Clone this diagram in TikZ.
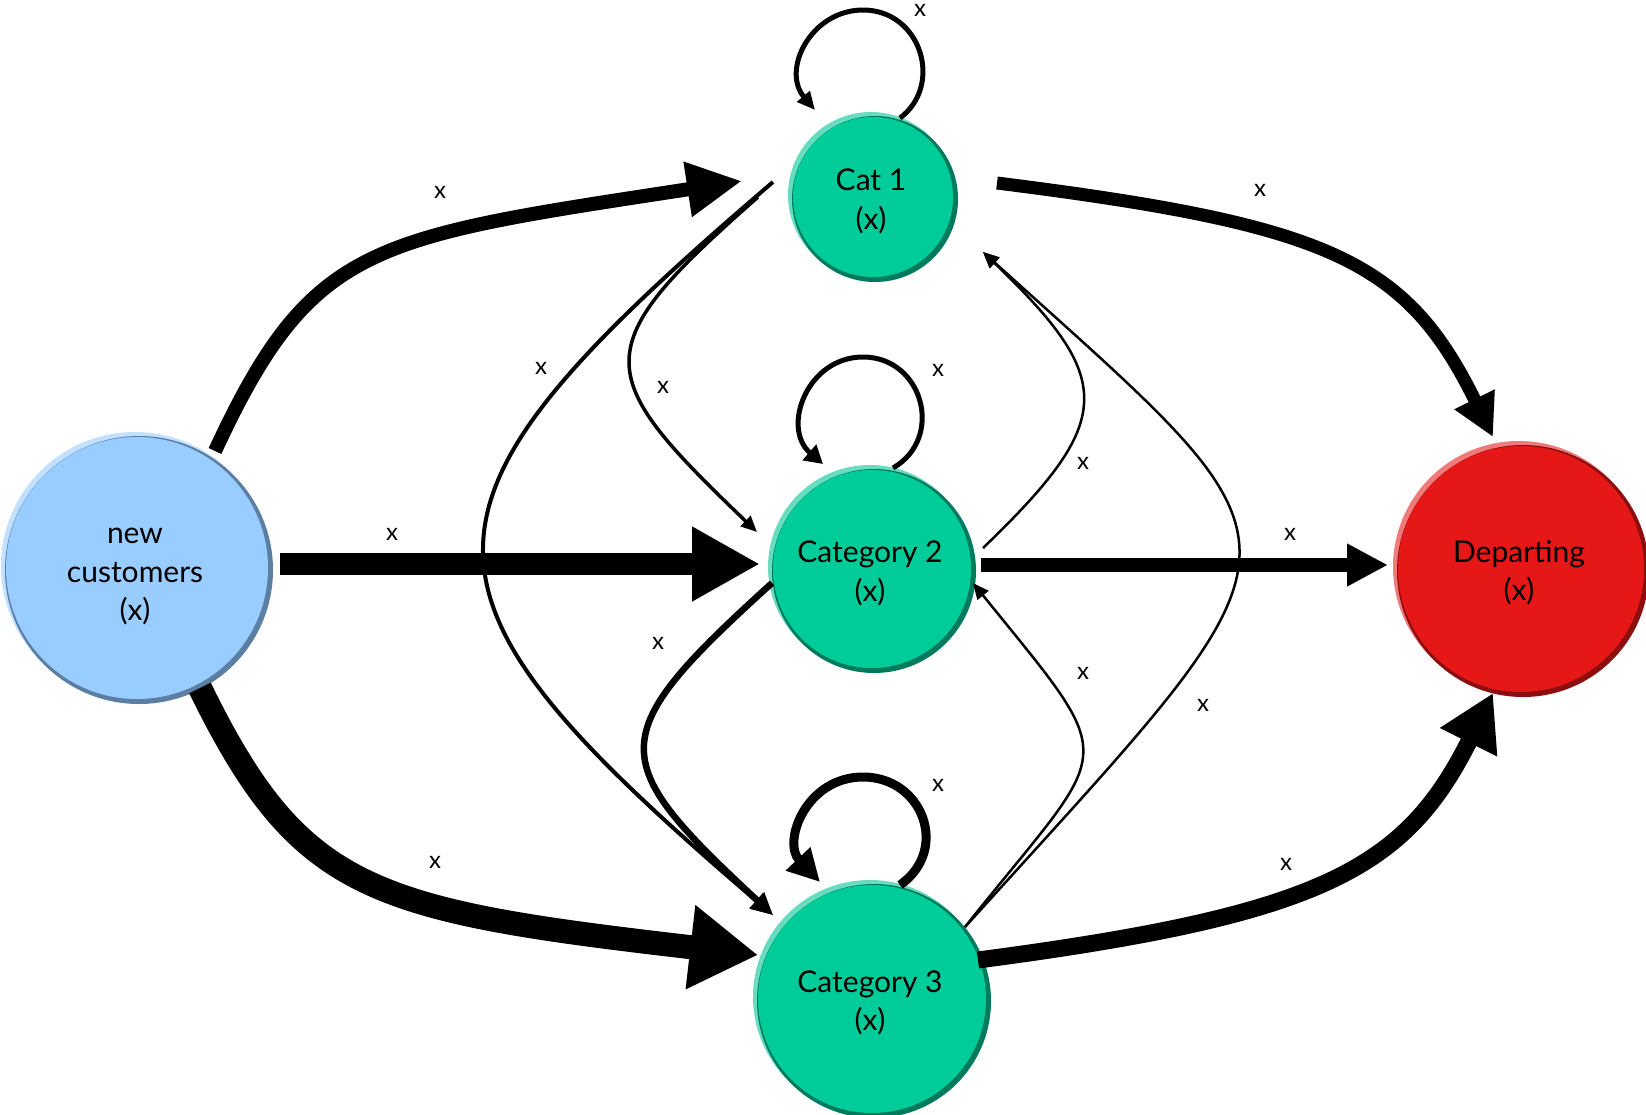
\documentclass[tikz,border=0pt]{standalone}
\usepackage{fontspec}
\setmainfont{Lato}
\usetikzlibrary{arrows.meta,calc,backgrounds}
\definecolor{tealM}{HTML}{00CC99}
\definecolor{tealL}{HTML}{66DDBF}
\definecolor{tealD}{HTML}{007A5C}
\definecolor{blueM}{HTML}{99CCFF}
\definecolor{blueL}{HTML}{C2E0FF}
\definecolor{blueD}{HTML}{5B7FA3}
\definecolor{redM}{HTML}{E61717}
\definecolor{redL}{HTML}{F07A7A}
\definecolor{redD}{HTML}{8C0E0E}
\newcommand\ballfill[5]{%
  \fill[#3] (#1.center) circle[radius=#2pt];
  \fill[#5] ($(#1.center)+(4,4)$) circle[radius=#2pt];
  \fill[#4] ($(#1.center)+(2,2)$) circle[radius=#2pt-3pt];
}
\newcommand\nodetext[2]{\raisebox{-#1pt}[0pt][0pt]{\begin{tabular}{@{}c@{}}#2\end{tabular}}}
\begin{document}
\begin{tikzpicture}[x=1pt,y=-1pt,
  nd/.style={circle, inner sep=0pt, font=\fontsize{30}{38.5}\selectfont},
  lab/.style={inner sep=0pt, font=\fontsize{24}{24}\selectfont},
  hd/.style 2 args={-{Triangle[length=#1pt,width=#2pt]}}]
\useasboundingbox (0,0) rectangle (1646,1114);
% nodes
\node[nd, minimum size=268pt] (new) at (135,566) {\nodetext{15}{new\\customers\\(x)}};
\node[nd, minimum size=166pt] (cat1) at (871,195) {\nodetext{13.5}{Cat 1\\(x)}};
\node[nd, minimum size=204pt] (cat2) at (870,567) {\nodetext{13.5}{Category 2\\(x)}};
\node[nd, minimum size=234pt] (cat3) at (870,997) {\nodetext{13}{Category 3\\(x)}};
\node[nd, minimum size=252pt] (dep) at (1519,567) {\nodetext{13}{Departing\\(x)}};
\begin{scope}[on background layer]
\ballfill{new}{134}{blueL}{blueM}{blueD}
\ballfill{cat1}{83}{tealL}{tealM}{tealD}
\ballfill{cat2}{102}{tealL}{tealM}{tealD}
\ballfill{cat3}{117}{tealL}{tealM}{tealD}
\ballfill{dep}{126}{redL}{redM}{redD}
\end{scope}
% thick flows
\draw[line width=14pt, hd={55}{52}] ($(new)+(80,-115)$) .. controls +(97,-209) and +(-372,57) .. ($(cat1)+(-129,-14)$);
\draw[line width=22pt, hd={68}{70}] ($(new)+(145,-2)$) -- ($(cat2)+(-110,-3)$);
\draw[line width=24pt, hd={68}{80}] ($(new)+(65,122)$) .. controls +(100,204) and +(-388,-45) .. ($(cat3)+(-112,-42)$);
\draw[line width=13pt, hd={42}{42}] ($(cat1)+(126,-12)$) .. controls +(333,42) and +(-87,-177) .. ($(dep)+(-26,-130)$);
\draw[line width=14pt, hd={41}{40}] ($(cat2)+(111,-2)$) -- ($(dep)+(-131,-2)$);
\draw[line width=17pt, hd={55}{60}] ($(cat3)+(108,-37)$) .. controls +(342,-45) and +(-88,177) .. ($(dep)+(-26,126)$);
% self loops
\draw[line width=5pt, hd={18}{16}] ($(cat1)+(29,-77)$) .. controls +(44,-33) and +(58,0) .. ($(cat1)+(-8,-185)$) .. controls +(-52,0) and +(-34,-40) .. ($(cat1)+(-56,-85)$);
\draw[line width=5pt, hd={18}{20}] ($(cat2)+(23,-99)$) .. controls +(52,-30) and +(60,0) .. ($(cat2)+(-7,-210)$) .. controls +(-56,0) and +(-42,-36) .. ($(cat2)+(-47,-103)$);
\draw[line width=9pt, hd={32}{32}] ($(cat3)+(30,-112)$) .. controls +(50,-35) and +(60,0) .. ($(cat3)+(-7,-220)$) .. controls +(-57,0) and +(-38,-40) .. ($(cat3)+(-50,-115)$);
% cross links
\draw[line width=3.5pt, hd={16}{14}] ($(cat1)+(-113,2)$) .. controls +(-173,152) and +(-166,-159) .. ($(cat2)+(-113,-35)$);
\draw[line width=4pt, hd={22}{20}] ($(cat1)+(-98,-13)$) .. controls +(-384,328) and +(-384,-328) .. ($(cat3)+(-97,-82)$);
\draw[line width=6.5pt, hd={22}{20}] ($(cat2)+(-98,16)$) .. controls +(-170,154) and +(-168,-156) .. ($(cat3)+(-97,-82)$);
\draw[line width=2.5pt, hd={16}{14}] ($(cat2)+(113,-19)$) .. controls +(133,-128) and +(133,128) .. ($(cat1)+(112,57)$);
\draw[line width=2.5pt, hd={16}{14}] ($(cat3)+(95,-70)$) .. controls +(361,-399) and +(343,310) .. ($(cat1)+(112,57)$);
\draw[line width=2.5pt, hd={16}{14}] ($(cat3)+(95,-70)$) .. controls +(149,-188) and +(152,188) .. ($(cat2)+(103,16)$);
% labels
\node[lab] (l1) at (440,192) {x};
\node[lab] (l2) at (392,534) {x};
\node[lab] (l3) at (435,862) {x};
\node[lab] (l4) at (1260,190) {x};
\node[lab] (l5) at (1290,534) {x};
\node[lab] (l6) at (1286,864) {x};
\node[lab] (l7) at (920,10) {x};
\node[lab] (l8) at (938,370) {x};
\node[lab] (l9) at (938,785) {x};
\node[lab] (l10) at (663,387) {x};
\node[lab] (l11) at (541,368) {x};
\node[lab] (l12) at (658,643) {x};
\node[lab] (l13) at (1083,463) {x};
\node[lab] (l14) at (1203,705) {x};
\node[lab] (l15) at (1083,673) {x};
\end{tikzpicture}
\end{document}
